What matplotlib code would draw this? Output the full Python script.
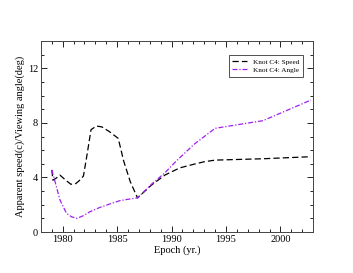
import matplotlib
matplotlib.use("Agg")
import matplotlib.pyplot as plt
from matplotlib.ticker import MultipleLocator

# Knot C4: apparent speed (c)
speed_year = [1979.0, 1979.1, 1979.4, 1979.75, 1980.2, 1980.75, 1981.2, 1981.5,
              1981.9, 1982.2, 1982.6, 1983.1, 1983.6, 1984.3, 1985.1, 1985.6,
              1986.2, 1986.87, 1988.15, 1989.4, 1990.75, 1992.1,
              1993.0, 1994.0, 1998.4, 2002.8]
speed_val = [4.55, 3.8, 3.95, 4.17, 3.85, 3.5, 3.55, 3.75,
             4.1, 5.5, 7.5, 7.77, 7.7, 7.35, 6.86, 5.2,
             3.7, 2.5, 3.44, 4.18, 4.7, 4.98,
             5.15, 5.27, 5.37, 5.52]

# Knot C4: viewing angle (deg)
angle_year = [1979.0, 1979.3, 1979.75, 1980.35, 1980.8, 1981.3, 1981.9,
              1982.5, 1983.4, 1984.3, 1985.25, 1986.0, 1986.87, 1988.15,
              1989.4, 1990.45, 1992.1, 1994.0, 1998.4, 2002.8]
angle_val = [4.55, 3.68, 2.34, 1.37, 1.12, 1.0, 1.2,
             1.49, 1.8, 2.05, 2.3, 2.4, 2.5, 3.5,
             4.35, 5.22, 6.45, 7.6, 8.16, 9.67]

plt.rcParams["font.family"] = ["Liberation Serif", "DejaVu Serif"]

fig = plt.figure(figsize=(3.53, 2.73), dpi=100)
ax = fig.add_axes([0.116, 0.150, 0.771, 0.700])

ax.plot(speed_year, speed_val, color="black", linestyle=(0, (5, 2.5)),
        linewidth=0.9, label="Knot C4: Speed")
ax.plot(angle_year, angle_val, color="#a020f0", linestyle=(0, (4, 1.5, 1, 1.5)),
        linewidth=0.9, label="Knot C4: Angle")

ax.set_xlim(1978, 2003)
ax.set_ylim(0, 14)
ax.xaxis.set_major_locator(MultipleLocator(5))
ax.xaxis.set_minor_locator(MultipleLocator(1))
ax.yaxis.set_major_locator(MultipleLocator(4))
ax.yaxis.set_minor_locator(MultipleLocator(1))
ax.tick_params(which="both", direction="in", top=True, right=True,
               labelsize=7.5, width=0.6, pad=2)
ax.tick_params(which="major", length=4)
ax.tick_params(which="minor", length=2.5)
for s in ax.spines.values():
    s.set_linewidth(0.7)
    s.set_color("#444444")

ax.set_xlabel("Epoch (yr.)", fontsize=7.5, labelpad=1)
ax.set_ylabel("Apparent speed(c)/Viewing angle(deg)", fontsize=7.5, labelpad=2)

leg = ax.legend(loc="upper right", fontsize=5.2, frameon=True, fancybox=False,
                edgecolor="black", handlelength=2.0, borderpad=0.5,
                labelspacing=0.3, bbox_to_anchor=(0.975, 0.945))
leg.get_frame().set_linewidth(0.6)

fig.savefig("out.png", dpi=100)
